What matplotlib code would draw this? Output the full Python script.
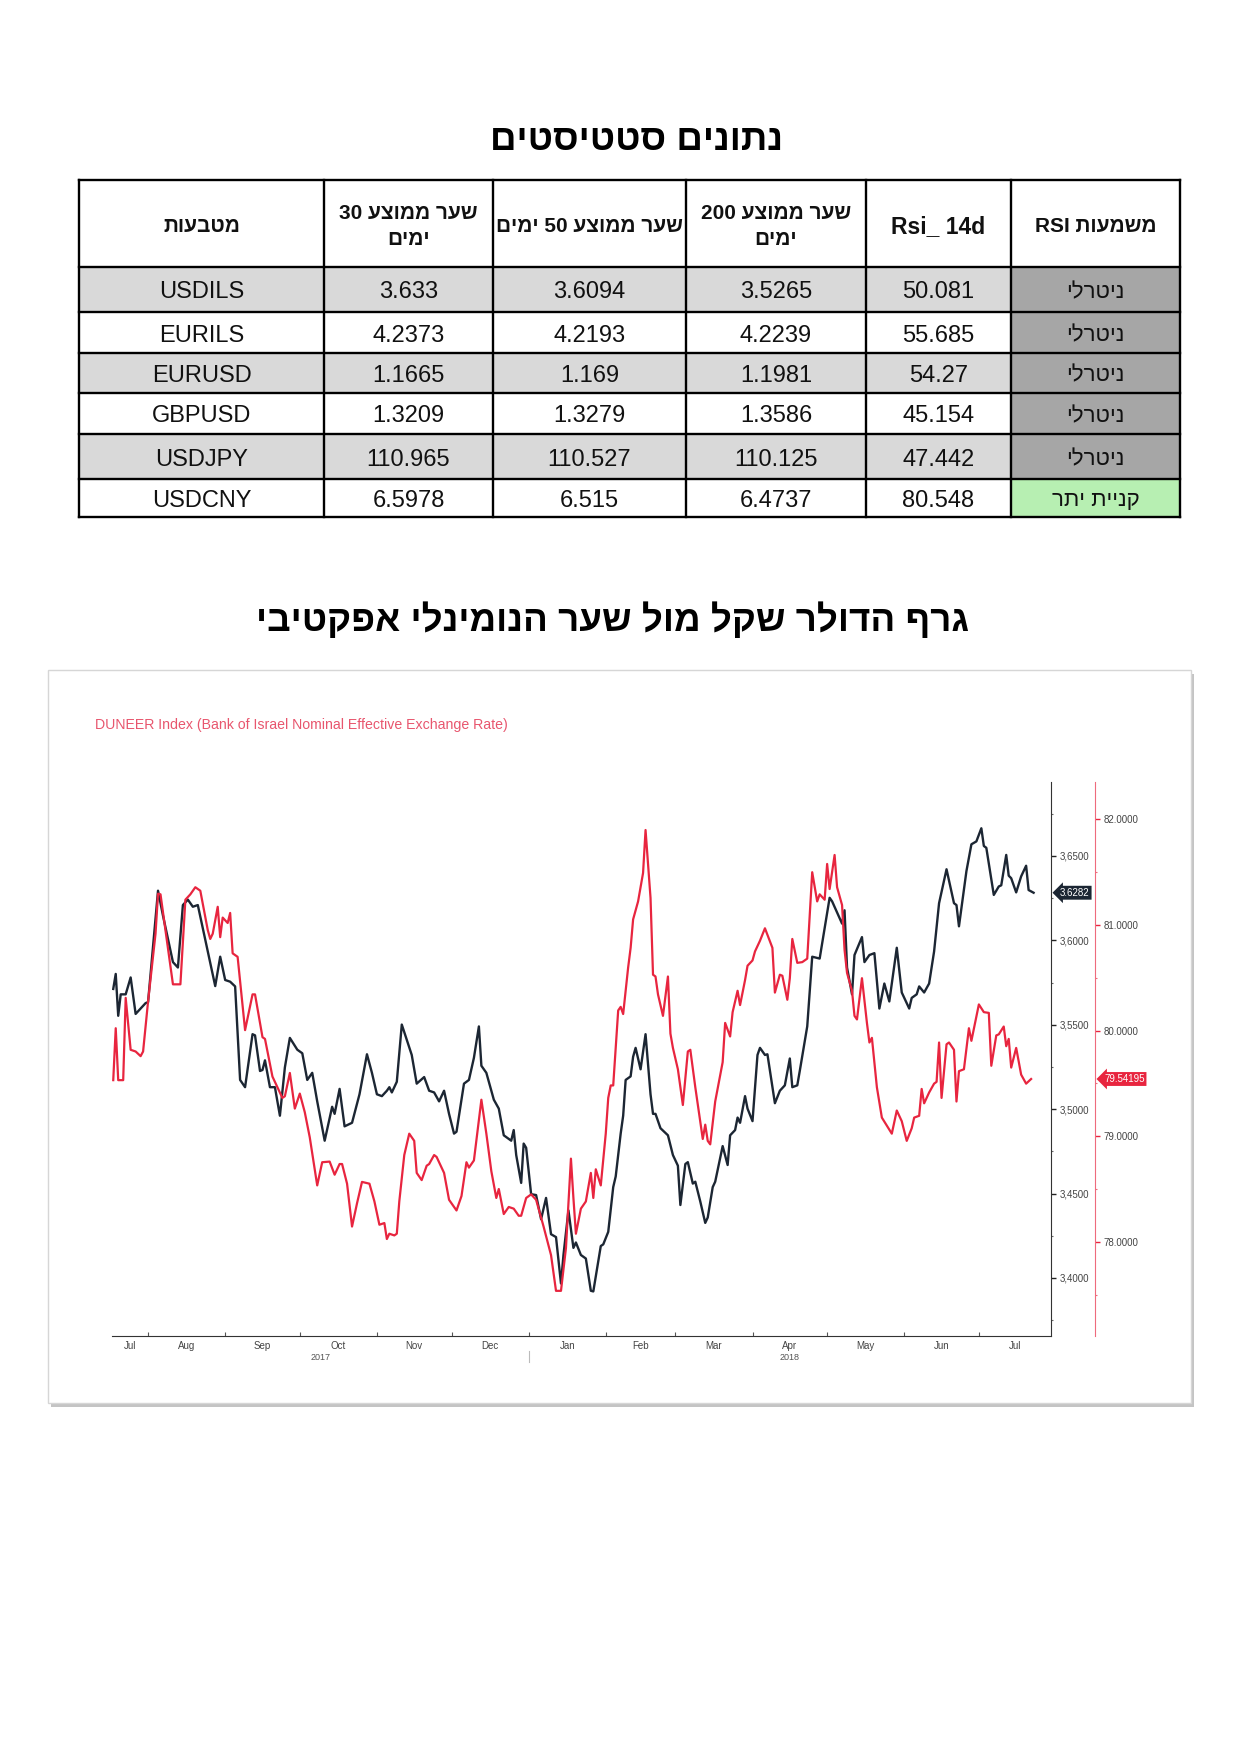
import numpy as np
import pandas as pd
import matplotlib
matplotlib.use("Agg")
import matplotlib.pyplot as plt
import matplotlib.dates as mdates
from matplotlib.patches import Rectangle
from matplotlib.ticker import MultipleLocator, FuncFormatter, FixedLocator, NullFormatter

plt.rcParams['font.family'] = ['Liberation Sans', 'DejaVu Sans']

# ---------------- data ----------------
title_table = "נתונים סטטיסטים"
title_chart = "גרף הדולר שקל מול שער הנומינלי אפקטיבי"
chart_label = "DUNEER Index (Bank of Israel Nominal Effective Exchange Rate)"

col_headers = ["מטבעות", "שער ממוצע 30\nימים", "שער ממוצע 50 ימים",
               "שער ממוצע 200\nימים", "Rsi_ 14d", "משמעות RSI"]
pairs = ["USDILS", "EURILS", "EURUSD", "GBPUSD", "USDJPY", "USDCNY"]
avg30 = [3.633, 4.2373, 1.1665, 1.3209, 110.965, 6.5978]
avg50 = [3.6094, 4.2193, 1.169, 1.3279, 110.527, 6.515]
avg200 = [3.5265, 4.2239, 1.1981, 1.3586, 110.125, 6.4737]
rsi14 = [50.081, 55.685, 54.27, 45.154, 47.442, 80.548]
rsi_meaning = ["ניטרלי", "ניטרלי", "ניטרלי", "ניטרלי", "ניטרלי", "קניית יתר"]

# days since 2017-07-01
usd_days = [17, 18, 19, 20, 22, 24, 26, 28, 30, 31,
            35, 37, 41, 43, 45, 47, 49, 51, 55, 58,
            60, 62, 64, 66, 68, 70, 73, 74, 76, 77,
            78, 80, 82, 84, 86, 88, 91, 93, 95, 97,
            99, 102, 105, 106, 108, 110, 113, 116, 119, 121,
            123, 125, 127, 128, 129, 131, 133, 137, 139, 142,
            144, 146, 148, 150, 152, 154, 155, 158, 160, 162,
            164, 165, 167, 170, 172, 174, 177, 178, 179, 181,
            182, 183, 185, 187, 189, 191, 193, 195, 197, 198,
            200, 202, 203, 205, 207, 209, 210, 213, 214, 216,
            218, 219, 221, 222, 223, 225, 226, 227, 229, 231,
            233, 234, 235, 237, 240, 242, 244, 245, 247, 248,
            250, 251, 253, 255, 256, 258, 259, 262, 264, 265,
            267, 268, 269, 271, 272, 274, 276, 277, 279, 280,
            283, 285, 287, 289, 290, 292, 293, 296, 298, 301,
            305, 306, 310, 311, 312, 314, 315, 318, 319, 321,
            323, 325, 327, 329, 332, 334, 337, 338, 340, 341,
            343, 345, 347, 349, 352, 355, 356, 357, 360, 362,
            364, 366, 367, 368, 371, 373, 374, 376, 377, 378,
            380, 382, 384, 385, 387]
usd_ils = [3.5712, 3.5801, 3.5553, 3.5680, 3.5680, 3.5780, 3.5564, 3.5596, 3.5628, 3.5634,
           3.6294, 3.6146, 3.5871, 3.5839, 3.6209, 3.6241, 3.6199, 3.6209, 3.5934, 3.5729,
           3.5903, 3.5765, 3.5755, 3.5727, 3.5173, 3.5130, 3.5444, 3.5437, 3.5226, 3.5232,
           3.5289, 3.5130, 3.5130, 3.4961, 3.5247, 3.5422, 3.5352, 3.5331, 3.5173, 3.5215,
           3.5046, 3.4813, 3.5014, 3.4972, 3.5120, 3.4898, 3.4919, 3.5088, 3.5325, 3.5215,
           3.5088, 3.5077, 3.5109, 3.5130, 3.5099, 3.5162, 3.5501, 3.5321, 3.5151, 3.5190,
           3.5109, 3.5099, 3.5046, 3.5109, 3.4972, 3.4855, 3.4866, 3.5151, 3.5173, 3.5304,
           3.5490, 3.5257, 3.5215, 3.5056, 3.5003, 3.4845, 3.4813, 3.4876, 3.4728, 3.4563,
           3.4796, 3.4771, 3.4496, 3.4491, 3.4348, 3.4474, 3.4259, 3.4242, 3.3967, 3.4136,
           3.4400, 3.4178, 3.4210, 3.4136, 3.4115, 3.3924, 3.3920, 3.4189, 3.4199, 3.4273,
           3.4538, 3.4601, 3.4855, 3.4961, 3.5173, 3.5194, 3.5310, 3.5363, 3.5236, 3.5444,
           3.5088, 3.4972, 3.4972, 3.4887, 3.4845, 3.4728, 3.4665, 3.4432, 3.4675, 3.4686,
           3.4559, 3.4570, 3.4453, 3.4326, 3.4358, 3.4538, 3.4570, 3.4781, 3.4669, 3.4845,
           3.4876, 3.4950, 3.4919, 3.5077, 3.5003, 3.4929, 3.5321, 3.5363, 3.5321, 3.5325,
           3.5035, 3.5109, 3.5141, 3.5300, 3.5130, 3.5141, 3.5226, 3.5490, 3.5903, 3.5892,
           3.6252, 3.6231, 3.6099, 3.6178, 3.5839, 3.5680, 3.5913, 3.6019, 3.5871, 3.5913,
           3.5924, 3.5596, 3.5744, 3.5638, 3.5956, 3.5691, 3.5596, 3.5659, 3.5680, 3.5727,
           3.5691, 3.5744, 3.5934, 3.6220, 3.6421, 3.6220, 3.6209, 3.6083, 3.6410, 3.6569,
           3.6586, 3.6664, 3.6559, 3.6548, 3.6269, 3.6319, 3.6326, 3.6506, 3.6383, 3.6368,
           3.6284, 3.6379, 3.6442, 3.6298, 3.6282]

neer_days = [17, 18, 19, 21, 22, 24, 26, 28, 29, 31,
             34, 35, 36, 38, 41, 44, 46, 48, 50, 52,
             55, 56, 57, 59, 60, 61, 63, 64, 65, 67,
             70, 73, 74, 77, 78, 81, 85, 86, 88, 90,
             92, 94, 96, 99, 101, 104, 106, 108, 109, 111,
             113, 115, 117, 120, 122, 124, 126, 127, 128, 130,
             131, 132, 134, 136, 138, 139, 141, 143, 144, 146,
             147, 150, 152, 155, 157, 159, 160, 162, 165, 167,
             169, 171, 172, 174, 176, 178, 180, 181, 183, 185,
             187, 190, 193, 195, 197, 199, 201, 202, 203, 205,
             207, 209, 210, 211, 213, 215, 216, 217, 218, 220,
             221, 222, 224, 225, 226, 228, 230, 231, 233, 234,
             235, 236, 238, 240, 241, 242, 244, 246, 248, 249,
             251, 254, 255, 256, 257, 259, 262, 263, 265, 266,
             268, 269, 271, 272, 274, 275, 277, 279, 282, 283,
             285, 286, 288, 289, 290, 292, 294, 296, 298, 300,
             301, 303, 304, 305, 307, 308, 310, 311, 312, 314,
             315, 316, 318, 320, 321, 322, 324, 326, 330, 332,
             334, 336, 338, 339, 341, 342, 343, 345, 347, 348,
             349, 350, 352, 353, 355, 356, 357, 359, 361, 362,
             365, 367, 369, 370, 372, 373, 375, 376, 377, 378,
             380, 382, 384, 386]
neer_index = [79.531, 80.022, 79.531, 79.531, 80.309, 79.818, 79.802, 79.758, 79.802, 80.275,
              80.916, 81.294, 81.288, 80.950, 80.437, 80.437, 81.237, 81.288, 81.355, 81.322,
              80.950, 80.866, 80.916, 81.170, 80.883, 81.068, 81.017, 81.112, 80.730, 80.697,
              80.004, 80.342, 80.342, 79.937, 79.921, 79.565, 79.363, 79.379, 79.599, 79.262,
              79.404, 79.228, 78.991, 78.536, 78.755, 78.761, 78.637, 78.738, 78.738, 78.552,
              78.147, 78.366, 78.569, 78.552, 78.384, 78.164, 78.180, 78.029, 78.079, 78.063,
              78.079, 78.384, 78.823, 79.025, 78.957, 78.654, 78.586, 78.722, 78.738, 78.823,
              78.805, 78.654, 78.400, 78.299, 78.435, 78.755, 78.704, 78.772, 79.346, 79.025,
              78.670, 78.417, 78.502, 78.265, 78.332, 78.316, 78.249, 78.249, 78.417, 78.451,
              78.400, 78.147, 77.877, 77.539, 77.539, 77.944, 78.789, 78.417, 78.079, 78.316,
              78.384, 78.654, 78.417, 78.688, 78.536, 79.025, 79.363, 79.481, 79.481, 80.190,
              80.224, 80.156, 80.596, 80.782, 81.051, 81.221, 81.490, 81.896, 81.254, 80.528,
              80.511, 80.342, 80.139, 80.511, 79.971, 79.836, 79.634, 79.296, 79.802, 79.818,
              79.464, 78.975, 79.110, 78.957, 78.924, 79.329, 79.701, 80.072, 79.944, 80.174,
              80.376, 80.241, 80.477, 80.613, 80.663, 80.748, 80.849, 80.967, 80.782, 80.359,
              80.528, 80.518, 80.291, 80.495, 80.866, 80.640, 80.647, 80.680, 81.497, 81.221,
              81.288, 81.237, 81.575, 81.338, 81.660, 81.355, 81.187, 80.764, 80.545, 80.376,
              80.139, 80.105, 80.495, 80.072, 79.887, 79.931, 79.464, 79.177, 79.025, 79.244,
              79.143, 78.957, 79.076, 79.177, 79.194, 79.448, 79.312, 79.414, 79.498, 79.515,
              79.887, 79.363, 79.870, 79.887, 79.818, 79.329, 79.616, 79.634, 80.022, 79.903,
              80.247, 80.174, 80.167, 79.667, 79.954, 79.964, 80.038, 79.852, 79.921, 79.650,
              79.836, 79.583, 79.498, 79.54195]

month_labels = ["Jul", "Aug", "Sep", "Oct", "Nov", "Dec", "Jan",
                "Feb", "Mar", "Apr", "May", "Jun", "Jul"]
year_labels = ["2017", "2018"]
usd_ticks = [3.40, 3.45, 3.50, 3.55, 3.60, 3.65]
neer_ticks = [78.0, 79.0, 80.0, 81.0, 82.0]


def has_heb(s):
    return any('\u0590' <= ch <= '\u05FF' for ch in s)


def vis(s):
    """Visual (left-to-right) order for Hebrew text."""
    if not has_heb(s):
        return s
    lines = []
    for line in s.split('\n'):
        toks = [t[::-1] if has_heb(t) else t for t in line.split(' ')]
        lines.append(' '.join(toks[::-1]))
    return '\n'.join(lines)


W, H = 1240, 1754
fig = plt.figure(figsize=(W / 100, H / 100), dpi=100)
bg = fig.add_axes([0, 0, 1, 1])
bg.set_xlim(0, W)
bg.set_ylim(H, 0)
bg.axis('off')
bg.set_zorder(0)

# ---------------- titles ----------------
bg.text(637, 140, vis(title_table), ha='center', va='center', fontsize=26.5,
        fontweight='bold', color='black')
bg.text(613, 621, vis(title_chart), ha='center', va='center', fontsize=26.5,
        fontweight='bold', color='black')

# ---------------- table ----------------
col_x = [79, 324, 493, 686, 866, 1011, 1180]
row_y = [180, 267, 312, 353, 393, 434, 479, 517]
columns = [pairs, [str(v) for v in avg30], [str(v) for v in avg50],
           [str(v) for v in avg200], [str(v) for v in rsi14], rsi_meaning]

for r in range(len(pairs)):
    y0, y1 = row_y[r + 1], row_y[r + 2]
    for c in range(6):
        x0, x1 = col_x[c], col_x[c + 1]
        if c == 5:
            fc = '#b7efb2' if rsi14[r] > 70 else '#a6a6a6'
        else:
            fc = '#d9d9d9' if r % 2 == 0 else 'white'
        bg.add_patch(Rectangle((x0, y0), x1 - x0, y1 - y0, fc=fc, ec='none'))
        txt = columns[c][r]
        bg.text((x0 + x1) / 2, (y0 + y1) / 2 + 3, vis(txt), ha='center',
                va='center', fontsize=16 if has_heb(txt) else 17, color='#111')

for c in range(6):
    txt = col_headers[c]
    bg.text((col_x[c] + col_x[c + 1]) / 2, (row_y[0] + row_y[1]) / 2 + 3, vis(txt),
            ha='center', va='center', fontsize=15 if has_heb(txt) else 16.5,
            fontweight='bold', color='#111', linespacing=1.45)

for y in row_y:
    bg.plot([col_x[0], col_x[-1]], [y, y], color='black', lw=1.7, solid_capstyle='projecting')
for x in col_x:
    bg.plot([x, x], [row_y[0], row_y[-1]], color='black', lw=1.7, solid_capstyle='projecting')

# ---------------- chart box ----------------
bg.add_patch(Rectangle((51, 674), 1143, 733, fc='#c4c4c4', ec='none'))
bg.add_patch(Rectangle((48, 670), 1143, 733, fc='white', ec='#d6d6d6', lw=1))
bg.text(95, 725, chart_label, ha='left', va='center', fontsize=10.2, color='#e8566e')

# ---------------- chart ----------------
base = np.datetime64('2017-07-01')
usd_dates = base + np.array(usd_days).astype('timedelta64[D]')
neer_dates = base + np.array(neer_days).astype('timedelta64[D]')

L, R, T, B = 112, 1051, 782, 1336
ax = fig.add_axes([L / W, 1 - B / H, (R - L) / W, (B - T) / H])
ax.set_zorder(2)
ax.patch.set_alpha(0)
ax2 = ax.twinx()
ax2.patch.set_alpha(0)

ax2.plot(neer_dates, neer_index, color='#e8253f', lw=1.6, zorder=2)
ax.plot(usd_dates, usd_ils, color='#1c2633', lw=1.7, zorder=3)

x0 = mdates.date2num(pd.Timestamp('2017-07-17 12:00'))
x1 = mdates.date2num(pd.Timestamp('2018-07-30'))
ax.set_xlim(x0, x1)
ax.set_ylim(3.3656, 3.6938)
ax2.set_ylim(77.112, 82.350)

for s in ['top', 'left']:
    ax.spines[s].set_visible(False)
ax.spines['right'].set_color('#333')
ax.spines['bottom'].set_color('#333')
for s in ['top', 'left', 'bottom']:
    ax2.spines[s].set_visible(False)
red_pos = (1095 - L) / (R - L)
ax2.spines['right'].set_position(('axes', red_pos))
ax2.spines['right'].set_color('#ee6b7d')

ax.yaxis.tick_right()
ax.yaxis.set_major_locator(FixedLocator(usd_ticks))
ax.yaxis.set_minor_locator(MultipleLocator(0.025))
ax.yaxis.set_major_formatter(FuncFormatter(lambda v, p: f"{v:.4f}".replace('.', ',')))
ax.tick_params(axis='y', which='major', direction='out', length=3.5, width=1,
               color='#222', labelcolor='#444', labelsize=7, pad=2.5)
ax.tick_params(axis='y', which='minor', direction='out', length=1.5, width=0.8, color='#666')

ax2.yaxis.set_major_locator(FixedLocator(neer_ticks))
ax2.yaxis.set_minor_locator(MultipleLocator(0.5))
ax2.yaxis.set_major_formatter(FuncFormatter(lambda v, p: f"{v:.4f}"))
ax2.tick_params(axis='y', which='major', direction='out', length=3.5, width=1,
                color='#e8253f', labelcolor='#444', labelsize=7, pad=2.5)
ax2.tick_params(axis='y', which='minor', direction='out', length=1.5, width=0.8, color='#ee6b7d')

# x axis: month starts as ticks, labels at centre of visible month
starts = mdates.date2num(pd.date_range('2017-07-01', periods=len(month_labels) + 1, freq='MS'))
ax.xaxis.set_major_locator(FixedLocator([s for s in starts if x0 < s < x1]))
ax.xaxis.set_major_formatter(NullFormatter())
ax.tick_params(axis='x', which='major', direction='in', length=3, width=0.8, color='#555')
for i, lab in enumerate(month_labels):
    a, b = max(starts[i], x0), min(starts[i + 1], x1)
    ax.annotate(lab, xy=((a + b) / 2, 0), xycoords=('data', 'axes fraction'),
                xytext=(0, -10), textcoords='offset pixels', ha='center', va='center',
                fontsize=7, color='#444')
jan1 = mdates.date2num(pd.Timestamp('2018-01-01'))
for lab, (a, b) in zip(year_labels, [(x0, jan1), (jan1, x1)]):
    ax.annotate(lab, xy=((a + b) / 2, 0), xycoords=('data', 'axes fraction'),
                xytext=(0, -22), textcoords='offset pixels', ha='center', va='center',
                fontsize=6.5, color='#555')
ax.plot([jan1, jan1], [-0.027, -0.047], transform=ax.get_xaxis_transform(),
        clip_on=False, color='#bbbbbb', lw=0.8)

# last-value flags
ax.annotate(f"{usd_ils[-1]:.4f}", xy=(1, usd_ils[-1]), xycoords=('axes fraction', 'data'),
            xytext=(9, 0), textcoords='offset pixels', ha='left', va='center',
            fontsize=7, color='white',
            bbox=dict(boxstyle='larrow,pad=0.2', fc='#1c2633', ec='none'))
ax2.annotate(f"{neer_index[-1]:.5f}", xy=(red_pos, neer_index[-1]),
             xycoords=('axes fraction', 'data'), xytext=(9, 0), textcoords='offset pixels',
             ha='left', va='center', fontsize=7, color='white',
             bbox=dict(boxstyle='larrow,pad=0.2', fc='#e8253f', ec='none'))

fig.savefig('out.png', dpi=100)
